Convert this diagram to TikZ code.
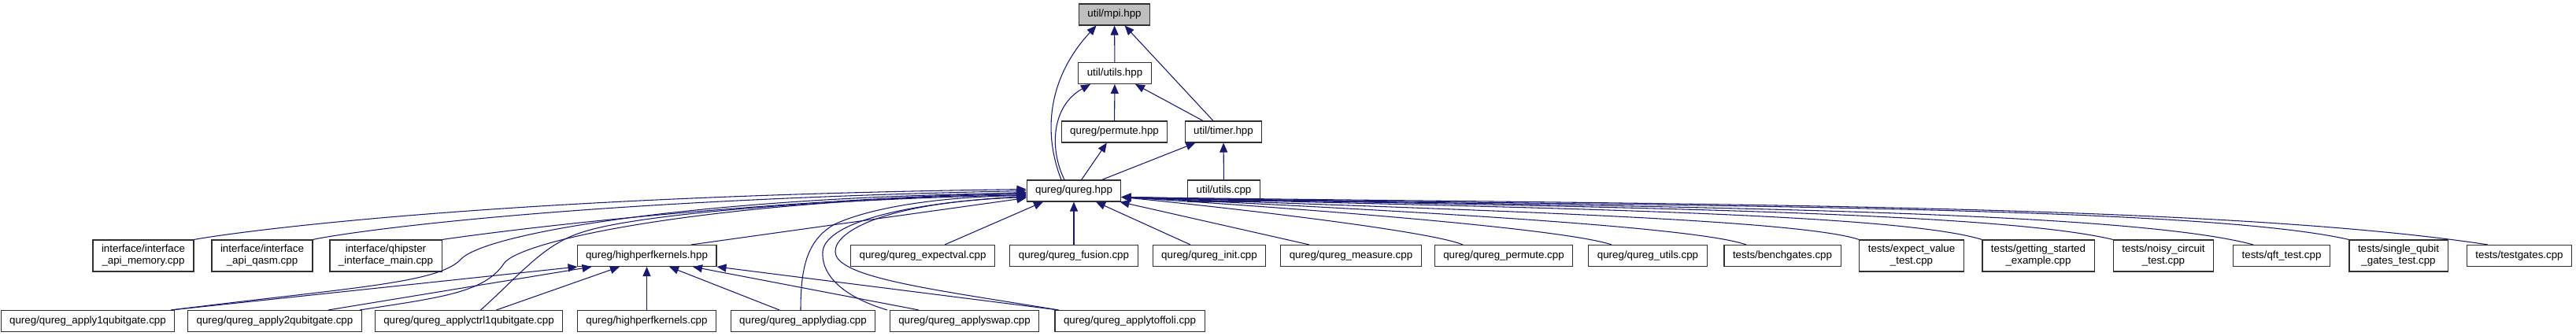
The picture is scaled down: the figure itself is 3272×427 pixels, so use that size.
\documentclass[tikz,border=0pt]{standalone}
\usepackage{fontspec}
\setmainfont{Liberation Sans}
\usepackage{tikz}
\usetikzlibrary{arrows.meta,positioning,calc}
\definecolor{dxEdge}{HTML}{191970}
\definecolor{dxRoot}{HTML}{BFBFBF}
\definecolor{dxBorder}{HTML}{303030}
\tikzset{
    % File boxes of the include graph
    filebox/.style={rectangle, draw=dxBorder, fill=white, line width=0.8pt, inner xsep=8.25pt, inner ysep=2pt, minimum height=20.25pt, align=center, font=\fontsize{10}{11.25}\selectfont},
    rootbox/.style={filebox, fill=dxRoot},
    twoline/.style={minimum height=30pt},
    % Include arrows
    incl/.style={-{Triangle[length=9pt,width=7.5pt]}, line width=0.8pt, dxEdge}
}

\begin{document}
\begin{tikzpicture}[x=0.75pt, y=-0.75pt]

    \useasboundingbox (0,0) rectangle (3272,427);

    % Upper part of the graph
    \node[rootbox] (mpi) at (1415.5,18.5) {util/mpi.hpp};
    \node[filebox] (utilshpp) at (1416,93) {util/utils.hpp};
    \node[filebox] (permutehpp) at (1415.5,167.5) {qureg/permute.hpp};
    \node[filebox] (timerhpp) at (1554,167.5) {util/timer.hpp};
    \node[filebox] (qureghpp) at (1364,242.5) {qureg/qureg.hpp};
    \node[filebox] (utilscpp) at (1554.5,242.5) {util/utils.cpp};

    % Third row
    \node[filebox, twoline] (apimem) at (182,325) {interface/interface\\\_api\_memory.cpp};
    \node[filebox, twoline] (apiqasm) at (333,325) {interface/interface\\\_api\_qasm.cpp};
    \node[filebox, twoline] (qhipster) at (490,325) {interface/qhipster\\\_interface\_main.cpp};
    \node[filebox] (hpkhpp) at (821.5,325) {qureg/highperfkernels.hpp};
    \node[filebox] (expectval) at (1172,325) {qureg/qureg\_expectval.cpp};
    \node[filebox] (fusion) at (1364,325) {qureg/qureg\_fusion.cpp};
    \node[filebox] (init) at (1536,325) {qureg/qureg\_init.cpp};
    \node[filebox] (measure) at (1716,325) {qureg/qureg\_measure.cpp};
    \node[filebox] (permutecpp) at (1910,325) {qureg/qureg\_permute.cpp};
    \node[filebox] (quregutils) at (2093,325) {qureg/qureg\_utils.cpp};
    \node[filebox] (benchgates) at (2264,325) {tests/benchgates.cpp};
    \node[filebox, twoline] (expectvaltest) at (2428,325) {tests/expect\_value\\\_test.cpp};
    \node[filebox, twoline] (gettingstarted) at (2589,325) {tests/getting\_started\\\_example.cpp};
    \node[filebox, twoline] (noisy) at (2748,325) {tests/noisy\_circuit\\\_test.cpp};
    \node[filebox] (qft) at (2898,325) {tests/qft\_test.cpp};
    \node[filebox, twoline] (singlequbit) at (3046.5,325) {tests/single\_qubit\\\_gates\_test.cpp};
    \node[filebox] (testgates) at (3200,325) {tests/testgates.cpp};

    % Bottom row
    \node[filebox] (apply1) at (111.5,408) {qureg/qureg\_apply1qubitgate.cpp};
    \node[filebox] (apply2) at (349,408) {qureg/qureg\_apply2qubitgate.cpp};
    \node[filebox] (applyctrl1) at (595.5,408) {qureg/qureg\_applyctrl1qubitgate.cpp};
    \node[filebox] (hpkcpp) at (821.5,408) {qureg/highperfkernels.cpp};
    \node[filebox] (applydiag) at (1020,408) {qureg/qureg\_applydiag.cpp};
    \node[filebox] (applyswap) at (1225,408) {qureg/qureg\_applyswap.cpp};
    \node[filebox] (applytoffoli) at (1435,408) {qureg/qureg\_applytoffoli.cpp};

    % Includes in the upper part
    \draw[incl] (utilshpp) -- (mpi);
    \draw[incl] (timerhpp) -- (mpi);
    \draw[incl] ($(qureghpp.north)+(-16,0)$) .. controls (1325,170) and (1330,100) .. ($(mpi.south)+(-23,0)$);
    \draw[incl] (permutehpp) -- (utilshpp);
    \draw[incl] ($(qureghpp.north)+(-12,0)$) .. controls (1333,190) and (1335,135) .. ($(utilshpp.south)+(-31,0)$);
    \draw[incl] (timerhpp) -- (utilshpp);
    \draw[incl] (qureghpp) -- (permutehpp);
    \draw[incl] (qureghpp) -- (timerhpp);
    \draw[incl] (utilscpp) -- (timerhpp);

    % Includes of qureg.hpp from the left
    \draw[incl] (apimem.north east) .. controls (280,298) and (600,250) .. ($(qureghpp.west)+(0,-2)$);
    \draw[incl] (apiqasm.north east) .. controls (430,297) and (700,255) .. (qureghpp.west);
    \draw[incl] (qhipster.north east) .. controls (620,296) and (900,258) .. ($(qureghpp.west)+(0,2)$);
    \draw[incl] ($(apply1.north east)+(-5,0)$) .. controls (450,365) and (555,360) .. (585,330) .. controls (615,295) and (900,250) .. ($(qureghpp.west)+(0,3)$);
    \draw[incl] ($(apply2.north east)+(-3,0)$) .. controls (560,378) and (615,372) .. (640,335) .. controls (660,305) and (900,255) .. ($(qureghpp.west)+(0,4)$);
    \draw[incl] ($(applyctrl1.north)+(15,0)$) .. controls (660,350) and (690,310) .. (740,295) .. controls (800,275) and (1000,255) .. ($(qureghpp.west)+(0,5)$);
    \draw[incl] ($(applydiag.north)+(-3,0)$) .. controls (1017,340) and (1025,305) .. (1060,285) .. controls (1110,262) and (1200,250) .. ($(qureghpp.west)+(0,6)$);
    \draw[incl] ($(applyswap.north)+(-98,0)$) .. controls (1080,380) and (1043,355) .. (1045,320) .. controls (1047,290) and (1120,260) .. ($(qureghpp.west)+(0,7)$);
    \draw[incl] ($(applytoffoli.north west)+(5,0)$) .. controls (1200,370) and (1075,355) .. (1062,325) .. controls (1052,300) and (1110,258) .. ($(qureghpp.west)+(0,8)$);
    \draw[incl] ($(hpkhpp.north)+(56.5,0)$) -- ($(qureghpp.west)+(0,9)$);

    % Includes of highperfkernels.hpp
    \draw[incl] ($(apply1.north east)+(-5,0)$) -- ($(hpkhpp.south west)+(1,0)$);
    \draw[incl] ($(apply2.north)+(68,0)$) -- ($(hpkhpp.south west)+(19,0)$);
    \draw[incl] ($(applyctrl1.north)+(35,0)$) -- ($(hpkhpp.south)+(-34.5,0)$);
    \draw[incl] (hpkcpp) -- (hpkhpp);
    \draw[incl] ($(applydiag.north)+(-30,0)$) -- ($(hpkhpp.south)+(28.5,0)$);
    \draw[incl] ($(applyswap.north)+(-58,0)$) -- ($(hpkhpp.south)+(58.5,0)$);
    \draw[incl] ($(applytoffoli.north west)+(5,0)$) -- (hpkhpp.south east);

    % Includes of qureg.hpp from below
    \draw[incl] ($(expectval.north)+(28,0)$) -- ($(qureghpp.south)+(-39,0)$);
    \draw[incl] (fusion) -- (qureghpp);
    \draw[incl] ($(init.north)+(-24,0)$) -- ($(qureghpp.south)+(28,0)$);
    \draw[incl] ($(measure.north)+(-53,0)$) -- ($(qureghpp.south east)+(-2,0)$);

    % Includes of qureg.hpp from the right
    \draw[incl] ($(permutecpp.north)+(-52,0)$) .. controls (1820,295) and (1600,268) .. ($(qureghpp.east)+(0,8)$);
    \draw[incl] ($(quregutils.north)+(-46,0)$) .. controls (1990,292) and (1700,268) .. ($(qureghpp.east)+(0,8)$);
    \draw[incl] ($(benchgates.north)+(-46,0)$) .. controls (2150,287) and (1750,266) .. ($(qureghpp.east)+(0,8)$);
    \draw[incl] (expectvaltest.north west) .. controls (2280,277) and (1800,265) .. ($(qureghpp.east)+(0,8)$);
    \draw[incl] (gettingstarted.north west) .. controls (2400,268) and (1850,263) .. ($(qureghpp.east)+(0,8)$);
    \draw[incl] (noisy.north west) .. controls (2520,265) and (1900,262) .. ($(qureghpp.east)+(0,8)$);
    \draw[incl] ($(qft.north)+(-36,0)$) .. controls (2680,262) and (1950,262) .. ($(qureghpp.east)+(0,8)$);
    \draw[incl] (singlequbit.north west) .. controls (2780,258) and (2000,262) .. ($(qureghpp.east)+(0,8)$);
    \draw[incl] ($(testgates.north)+(-40,0)$) .. controls (2812,258) and (2117,260) .. ($(qureghpp.east)+(0,8)$);

\end{tikzpicture}
\end{document}
